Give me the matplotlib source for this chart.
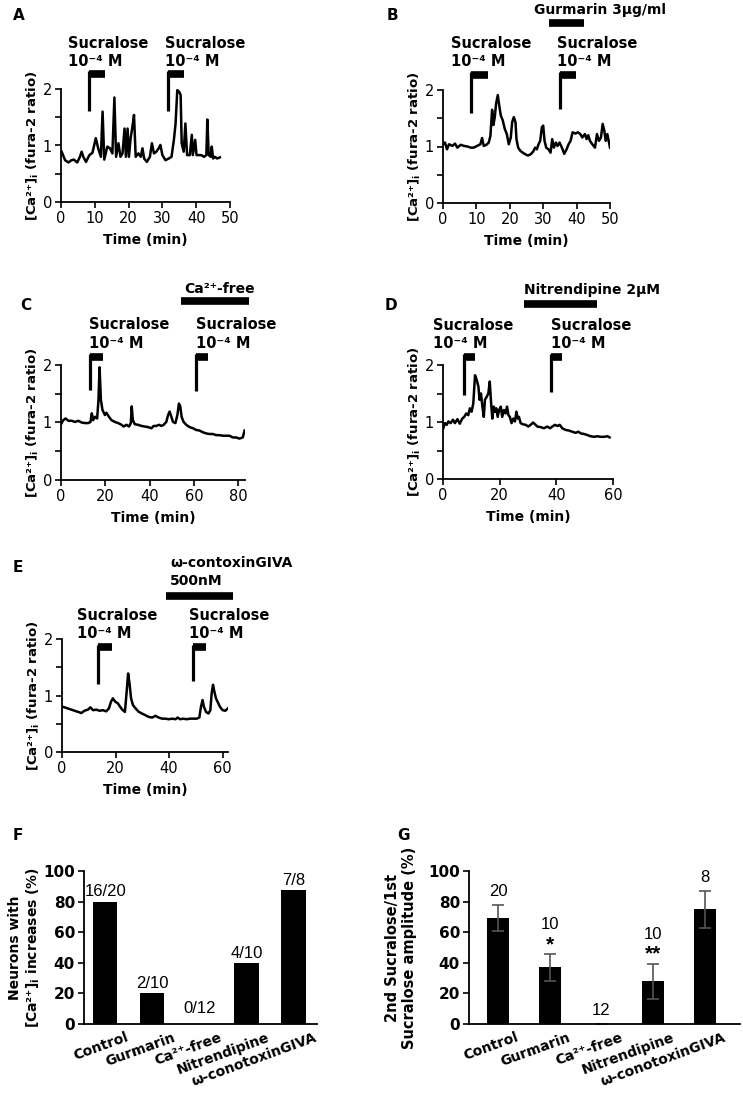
import numpy as np
import matplotlib.pyplot as plt
from matplotlib.ticker import MultipleLocator
from matplotlib.transforms import ScaledTranslation

plt.rcParams['font.family'] = ['DejaVu Sans']
plt.rcParams['mathtext.fontset'] = 'custom'
plt.rcParams['mathtext.rm'] = 'DejaVu Sans:bold'
plt.rcParams['mathtext.bf'] = 'DejaVu Sans:bold'
plt.rcParams['mathtext.it'] = 'DejaVu Sans:bold'
plt.rcParams['mathtext.default'] = 'bf'

# === traces (time in min, fura-2 ratio) ===
a_t = [0.2, 1.2, 2.2, 3.1, 3.8, 4.8, 5.6, 6.1, 6.6, 7.4, 8.4, 9.3, 10.3, 11.0, 11.8, 12.3, 12.8,
       13.7, 14.5, 15.2, 15.8, 16.3, 17.0, 17.6, 18.2, 18.8, 19.2, 19.7, 20.1, 20.6, 21.2, 21.6,
       22.1, 22.9, 23.6, 24.1, 24.6, 25.4, 26.3, 26.9, 27.5, 28.2, 28.9, 29.4, 30.0, 30.9, 31.9,
       32.7, 33.4, 33.9, 34.4, 35.0, 35.4, 35.7, 36.3, 36.8, 37.3, 38.1, 38.7, 39.0, 39.7, 40.1,
       40.9, 41.5, 42.3, 43.0, 43.3, 43.7, 44.3, 44.6, 45.0, 45.5, 46.2, 47.0]
a_v = [0.89, 0.74, 0.70, 0.74, 0.75, 0.70, 0.80, 0.89, 0.80, 0.71, 0.83, 0.87, 1.13, 0.95, 0.80, 1.60, 0.75,
       0.98, 0.95, 0.86, 1.85, 0.80, 1.04, 0.80, 0.86, 1.30, 0.80, 1.30, 0.80, 1.13, 1.36, 1.54,
       0.80, 0.86, 0.80, 0.95, 0.77, 0.71, 0.80, 1.04, 0.86, 0.89, 0.95, 1.01, 0.83, 0.74, 0.77,
       0.80, 1.10, 1.39, 1.98, 1.95, 1.89, 1.04, 0.89, 1.39, 0.83, 0.83, 1.19, 0.83, 1.10, 0.83,
       0.83, 0.83, 0.80, 0.83, 1.46, 0.83, 0.80, 0.98, 0.77, 0.80, 0.77, 0.79]

b_t = [0.0, 0.6, 1.2, 1.8, 2.8, 3.6, 4.3, 5.3, 6.3, 7.3, 8.3, 9.2, 10.2, 11.2, 11.7, 12.2, 13.0,
       13.7, 14.2, 14.7, 15.1, 15.5, 15.9, 16.4, 16.9, 17.3, 17.9, 18.5, 19.1, 19.7, 20.3, 20.7,
       21.2, 21.7, 22.0, 22.5, 23.2, 23.9, 24.7, 25.4, 26.2, 27.0, 27.6, 28.1, 28.6, 29.1, 29.6,
       30.0, 30.4, 30.9, 31.6, 32.2, 32.7, 33.2, 33.8, 34.3, 34.9, 35.6, 36.3, 37.0, 37.6, 38.2,
       38.8, 39.6, 40.4, 41.1, 41.7, 42.5, 43.0, 43.5, 44.0, 44.7, 45.5, 46.1, 46.7, 47.3, 47.8,
       48.3, 48.7, 49.2, 49.7, 50.0]
b_v = [1.04, 1.07, 0.95, 1.04, 1.01, 1.05, 0.98, 1.03, 1.01, 1.00, 0.98, 0.98, 1.01, 1.04, 1.15, 1.01, 1.03,
       1.07, 1.19, 1.65, 1.38, 1.52, 1.76, 1.91, 1.70, 1.55, 1.46, 1.31, 1.22, 1.04, 1.16, 1.43,
       1.52, 1.43, 1.13, 0.98, 0.92, 0.89, 0.86, 0.84, 0.86, 0.91, 0.98, 0.95, 1.04, 1.10, 1.34,
       1.37, 1.10, 0.98, 0.95, 0.89, 1.13, 0.98, 1.07, 1.01, 1.07, 0.98, 0.87, 0.95, 1.04, 1.10,
       1.25, 1.23, 1.25, 1.22, 1.16, 1.22, 1.13, 1.20, 1.10, 1.04, 0.98, 1.22, 1.10, 1.16, 1.40,
       1.28, 1.10, 1.22, 1.07, 0.98]

c_t = [0.3, 1.0, 2.1, 3.3, 4.8, 6.3, 7.8, 9.3, 10.8, 12.3, 13.3, 13.9, 14.5, 15.4, 16.3, 16.9, 17.4,
       18.0, 18.7, 19.8, 20.5, 21.6, 22.8, 24.3, 25.8, 27.3, 28.3, 29.5, 30.7, 31.5, 31.9, 32.4,
       33.3, 34.8, 36.3, 37.8, 39.3, 40.8, 41.8, 43.0, 44.2, 45.3, 46.3, 47.5, 48.3, 49.0, 49.8,
       50.5, 51.6, 52.5, 53.2, 53.8, 54.4, 55.3, 56.5, 58.0, 59.5, 61.0, 62.5, 64.0, 65.5, 67.0,
       68.5, 70.0, 71.5, 73.0, 74.5, 76.0, 77.5, 79.0, 80.5, 82.0, 82.8]
c_v = [0.99, 1.04, 1.07, 1.03, 1.03, 1.01, 1.03, 1.00, 0.99, 0.99, 1.01, 1.16, 1.04, 1.10, 1.07, 1.39, 1.96,
       1.39, 1.22, 1.13, 1.17, 1.10, 1.04, 1.01, 0.99, 0.96, 0.93, 0.96, 0.93, 0.99, 1.28, 1.04,
       0.97, 0.96, 0.94, 0.93, 0.92, 0.90, 0.94, 0.94, 0.96, 0.94, 0.96, 1.01, 1.13, 1.19, 1.10,
       1.01, 0.99, 1.13, 1.33, 1.28, 1.10, 1.01, 0.96, 0.92, 0.90, 0.87, 0.86, 0.83, 0.81, 0.80,
       0.80, 0.78, 0.78, 0.77, 0.77, 0.77, 0.74, 0.74, 0.72, 0.74, 0.86]

d_t = [0.1, 0.7, 1.3, 1.9, 2.7, 3.5, 4.2, 5.1, 5.9, 6.8, 7.5, 8.2, 8.9, 9.5, 10.1, 10.7, 11.3,
       11.9, 12.5, 12.9, 13.4, 13.9, 14.4, 14.8, 15.4, 16.0, 16.5, 16.9, 17.4, 17.9, 18.4, 18.8,
       19.3, 19.8, 20.4, 20.9, 21.5, 22.1, 22.6, 23.1, 23.6, 24.2, 24.8, 25.4, 25.9, 26.4, 26.8,
       27.4, 28.2, 29.2, 30.1, 30.9, 31.8, 32.5, 33.3, 34.5, 35.6, 36.8, 37.8, 38.6, 39.5, 40.4,
       41.2, 42.1, 43.3, 44.5, 45.6, 46.8, 47.8, 48.6, 49.8, 51.0, 52.1, 53.3, 54.5, 55.6, 56.8,
       58.0, 58.8]
d_v = [0.89, 0.98, 0.95, 1.01, 0.98, 1.04, 0.98, 1.05, 0.97, 1.06, 1.09, 1.15, 1.12, 1.24, 1.18, 1.33, 1.82,
       1.74, 1.62, 1.39, 1.50, 1.27, 1.09, 1.39, 1.44, 1.50, 1.71, 1.39, 1.06, 1.27, 1.18, 1.24,
       1.09, 1.21, 1.27, 1.09, 1.21, 1.15, 1.27, 1.12, 1.09, 0.98, 1.06, 1.01, 1.18, 1.06, 1.09,
       0.98, 0.96, 0.95, 0.92, 0.95, 0.99, 0.96, 0.92, 0.91, 0.89, 0.92, 0.89, 0.92, 0.95, 0.93,
       0.95, 0.89, 0.86, 0.85, 0.83, 0.81, 0.83, 0.80, 0.79, 0.77, 0.75, 0.74, 0.75, 0.74, 0.74,
       0.75, 0.73]

e_t = [0.1, 1.0, 2.2, 3.5, 4.7, 6.0, 7.2, 8.4, 9.7, 10.6, 11.6, 12.8, 14.0, 15.3, 16.5, 17.5, 18.3,
       19.0, 19.9, 20.9, 21.7, 22.7, 23.5, 24.1, 24.7, 25.2, 25.8, 26.5, 27.5, 28.7, 29.9, 31.2,
       32.4, 33.7, 34.9, 36.1, 37.4, 38.6, 39.9, 41.1, 42.4, 43.2, 44.1, 45.3, 46.6, 47.8, 49.1,
       50.3, 51.3, 51.9, 52.5, 53.0, 53.8, 54.7, 55.4, 55.9, 56.4, 56.9, 57.5, 58.1, 59.0, 60.0,
       61.0, 61.9]
e_v = [0.80, 0.79, 0.77, 0.75, 0.73, 0.71, 0.69, 0.73, 0.75, 0.79, 0.74, 0.75, 0.73, 0.74, 0.72, 0.77, 0.89,
       0.95, 0.89, 0.86, 0.80, 0.74, 0.71, 1.04, 1.39, 1.22, 0.95, 0.83, 0.77, 0.71, 0.68, 0.65,
       0.62, 0.61, 0.64, 0.61, 0.59, 0.59, 0.58, 0.59, 0.58, 0.61, 0.58, 0.59, 0.58, 0.59, 0.59,
       0.59, 0.61, 0.80, 0.92, 0.80, 0.71, 0.68, 0.74, 1.04, 1.19, 1.07, 0.95, 0.89, 0.80, 0.74,
       0.73, 0.77]

# sucralose application (start, end) in min
a_stim = [(8.3, 13.1), (31.7, 36.4)]
b_stim = [(8.45, 13.5), (35.1, 39.8)]
c_stim = [(13.3, 19.0), (61.0, 66.3)]
d_stim = [(7.4, 11.3), (38.0, 42.1)]
e_stim = [(13.5, 18.8), (48.8, 53.8)]

# drug application (start, end) in min
b_drug = (31.6, 42.1)
c_drug = (54.3, 85.0)
d_drug = (28.6, 54.5)
e_drug = (38.9, 63.7)

# === summary bars ===
groups = ['Control', 'Gurmarin', 'Ca\u00b2\u207a-free', 'Nitrendipine', '\u03c9-conotoxinGIVA']
resp_pct = [80, 20, 0, 40, 87.5]
resp_counts = ['16/20', '2/10', '0/12', '4/10', '7/8']
amp_mean = [69, 37, 0, 28, 75]
amp_err = [8.5, 9, 0, 11.5, 12]
amp_n = ['20', '10', '12', '10', '8']
amp_sig = ['', '*', '', '**', '']

W, H = 743, 1100
fig = plt.figure(figsize=(W / 100, H / 100), dpi=100)
CA_LABEL = '[Ca\u00b2\u207a]$_{i}$'


def px_axes(x0, y0, x1, y1):
    return fig.add_axes([x0 / W, 1 - y1 / H, (x1 - x0) / W, (y1 - y0) / H])


def style(ax, size=10.5):
    for s in ['top', 'right']:
        ax.spines[s].set_visible(False)
    ax.spines['left'].set_linewidth(1.3)
    ax.spines['bottom'].set_linewidth(1.3)
    ax.tick_params(direction='out', width=1.2, length=4, labelsize=size, pad=2.5)
    ax.tick_params(which='minor', direction='out', width=1.2, length=4)


def trace_panel(box, t, v, xmax, xstep, stims, stim_lo, stim_top, txt_x, txt_y):
    ax = px_axes(*box)
    ax.plot(t, v, color='black', lw=1.8)
    ax.set_xlim(0, xmax)
    ax.set_ylim(0, 2)
    ax.set_yticks([0, 1, 2])
    ax.yaxis.set_minor_locator(MultipleLocator(0.5))
    ax.xaxis.set_major_locator(MultipleLocator(xstep))
    style(ax)
    ax.set_xlabel('Time (min)', fontsize=10, fontweight='bold', labelpad=5)
    ax.set_ylabel(CA_LABEL + ' (fura-2 ratio)', fontsize=9.5, fontweight='bold', labelpad=1)
    for (s0, s1), lo, tx in zip(stims, stim_lo, txt_x):
        ax.plot([s0, s0], [lo, stim_top], color='black', lw=2.3, clip_on=False,
                solid_capstyle='butt')
        ax.plot([s0, s1], [stim_top - 0.05, stim_top - 0.05], color='black', lw=5.5,
                clip_on=False, solid_capstyle='butt')
        ax.text(tx, txt_y, 'Sucralose', fontsize=10.5, fontweight='bold', va='center')
        ax.text(tx, txt_y - 0.33, '10\u207b\u2074 M', fontsize=10.5, fontweight='bold',
                va='center')
    return ax


def drug_bar(ax, span, y, label, ty, tx):
    ax.plot(span, [y, y], color='black', lw=5.5, clip_on=False, solid_capstyle='butt')
    ax.text(tx, ty, label, fontsize=10, fontweight='bold', va='center')


# A
axA = trace_panel((61, 89, 230, 202), a_t, a_v, 50, 10, a_stim, [1.61, 1.61], 2.31,
                  [2.2, 30.9], 2.81)
# B
axB = trace_panel((443, 90, 610, 203), b_t, b_v, 50, 10, b_stim, [1.60, 1.66], 2.31,
                  [2.3, 34.1], 2.83)
drug_bar(axB, b_drug, 3.18, 'Gurmarin 3\u00b5g/ml', 3.42, 27.1)
# C
axC = trace_panel((61, 365, 245, 480), c_t, c_v, 83, 20, c_stim, [1.57, 1.54], 2.19,
                  [12.7, 60.7], 2.70)
drug_bar(axC, c_drug, 3.12, 'Ca\u00b2\u207a-free', 3.33, 55.8)
# D
axD = trace_panel((443, 365, 613, 479), d_t, d_v, 60, 20, d_stim, [1.47, 1.53], 2.19,
                  [-3.5, 38.0], 2.70)
drug_bar(axD, d_drug, 3.07, 'Nitrendipine 2\u00b5M', 3.32, 28.6)
# E
axE = trace_panel((62, 639, 228, 752), e_t, e_v, 62, 20, e_stim, [1.20, 1.25], 1.90,
                  [5.7, 47.6], 2.42)
drug_bar(axE, e_drug, 2.76, '\u03c9-contoxinGIVA', 3.35, 40.4)
axE.text(40.4, 3.03, '500nM', fontsize=10, fontweight='bold', va='center')

x = np.arange(len(groups))


def bar_axes(ax, xlim, shift):
    ax.set_xlim(*xlim)
    ax.set_ylim(0, 100)
    ax.set_yticks(range(0, 101, 20))
    style(ax, size=11)
    ax.tick_params(axis='x', length=0)
    ax.set_xticks(x)
    ax.set_xticklabels(groups, rotation=20, ha='right', rotation_mode='anchor',
                       fontsize=10, fontweight='bold')
    off = ScaledTranslation(shift / 100, -3 / 100, fig.dpi_scale_trans)
    for lab in ax.get_xticklabels():
        lab.set_transform(lab.get_transform() + off)
    for lab in ax.get_yticklabels():
        lab.set_fontweight('bold')


# F
axF = px_axes(84, 871, 317, 1024)
axF.bar(x, resp_pct, width=0.52, color='black')
bar_axes(axF, (-0.45, 4.5), 20)
for xi, val, lab in zip(x, resp_pct, resp_counts):
    axF.text(xi, max(val, 4) + 1.5, lab, ha='center', va='bottom', fontsize=12,
             family='Liberation Sans')
axF.set_ylabel('Neurons with\n' + CA_LABEL + ' increases (%)', fontsize=10,
               fontweight='bold', labelpad=1)

# G
axG = px_axes(469, 871, 740, 1024)
axG.bar(x, amp_mean, width=0.43, color='black')
axG.errorbar(x, amp_mean, yerr=amp_err, fmt='none', ecolor='#555555', elinewidth=1.2,
             capsize=4, capthick=1.2)
bar_axes(axG, (-0.56, 4.68), 18)
for xi, m, e, n, sig in zip(x, amp_mean, amp_err, amp_n, amp_sig):
    top = m + e
    if sig:
        axG.text(xi, top + 6, sig, ha='center', va='center', fontsize=15,
                 family='Liberation Sans', fontweight='bold')
        axG.text(xi, top + 19, n, ha='center', va='center', fontsize=12,
                 family='Liberation Sans')
    elif top == 0:
        axG.text(xi, 9, n, ha='center', va='center', fontsize=12, family='Liberation Sans')
    else:
        axG.text(xi, top + 9, n, ha='center', va='center', fontsize=12,
                 family='Liberation Sans')
axG.set_ylabel('2nd Sucralose/1st\nSucralose amplitude (%)', fontsize=10.5,
               fontweight='bold', labelpad=8)

# panel letters
for letter, px, py in [('A', 13, 15), ('B', 387, 15), ('C', 20, 305), ('D', 385, 305),
                       ('E', 13, 567), ('F', 13, 835), ('G', 397, 835)]:
    fig.text(px / W, 1 - py / H, letter, fontsize=11, fontweight='bold', va='center')

fig.savefig('out.png', dpi=100)
